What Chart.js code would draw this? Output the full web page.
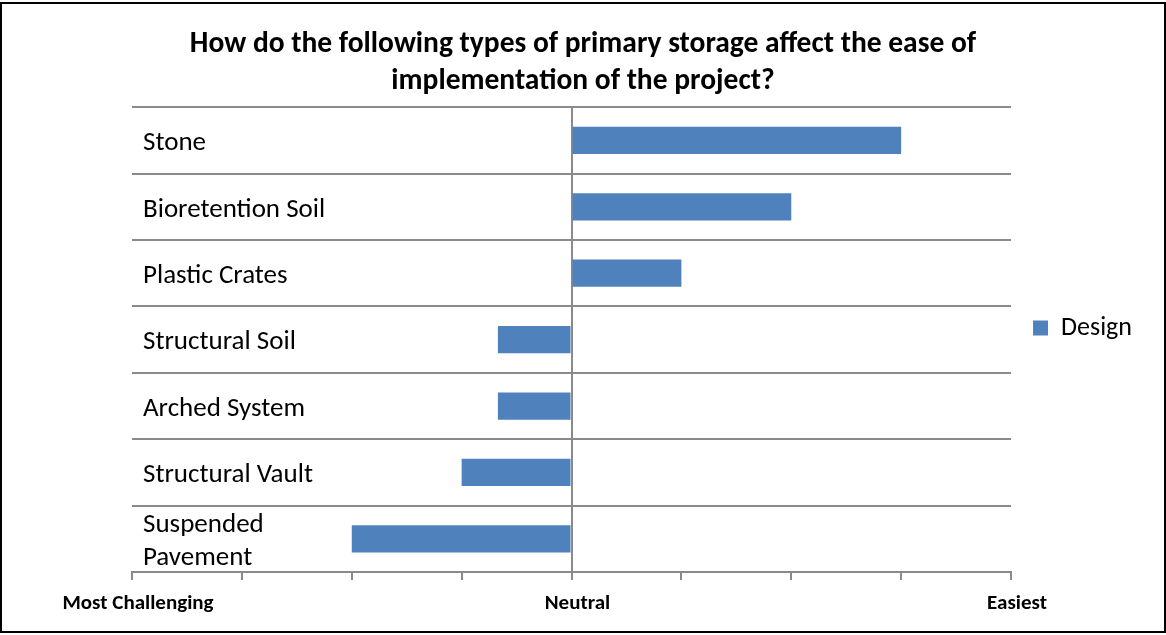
<!DOCTYPE html>
<html>
<head>
<meta charset="utf-8">
<script src="https://cdn.jsdelivr.net/npm/chart.js@4"></script>
<style>
  html, body { margin: 0; padding: 0; background: #fff; }
  #wrap { position: relative; width: 1166px; height: 635px; }
  #frame {
    position: absolute; left: 0; top: 2px; width: 1166px; height: 631px;
    box-sizing: border-box; border: 2px solid #000; pointer-events: none;
  }
</style>
</head>
<body>
<div id="wrap">
  <canvas id="chart" width="1166" height="635"></canvas>
  <div id="frame"></div>
</div>
<script>
const categories = [
  'Stone', 'Bioretention Soil', 'Plastic Crates', 'Structural Soil',
  'Arched System', 'Structural Vault', ['Suspended', 'Pavement']
];
const design = [3, 2, 1, -0.67, -0.67, -1, -2];

// x axis: only three named ticks
const tickValues = [-4, 0, 4];
const tickNames = ['Most Challenging', 'Neutral', 'Easiest'];

const FONT = "Carlito, Lato, 'Open Sans', sans-serif";
const GRID = '#8a8a8a';

const ctx = document.getElementById('chart').getContext('2d');
const chart = new Chart(ctx, {
  type: 'bar',
  data: {
    labels: categories,
    datasets: [{
      label: 'Design',
      data: design,
      backgroundColor: '#4F81BD',
      borderWidth: 0,
      barPercentage: 0.41,
      categoryPercentage: 1
    }]
  },
  options: {
    indexAxis: 'y',
    responsive: false,
    animation: false,
    // equal side padding keeps the title centred on the canvas
    layout: { padding: { left: 24, right: 24, top: 21, bottom: 0 } },
    plugins: {
      title: {
        display: true,
        text: ['How do the following types of primary storage affect the ease of',
               'implementation of the project?'],
        color: '#000',
        font: { family: FONT, size: 29.5, weight: 'bold', lineHeight: 1.25 },
        padding: { top: 5, bottom: 7.5 }
      },
      legend: {
        position: 'right',
        labels: {
          color: '#000',
          font: { family: FONT, size: 26 },
          boxWidth: 15,
          boxHeight: 15,
          padding: 22
        }
      },
      tooltip: { enabled: false }
    },
    scales: {
      x: {
        min: -4,
        max: 4,
        grid: {
          color: c => (c.tick && c.tick.value === 0 ? GRID : 'rgba(0,0,0,0)'),
          lineWidth: 2,
          tickColor: GRID,
          tickLength: 8
        },
        border: { color: GRID, width: 2 },
        ticks: {
          stepSize: 1,
          autoSkip: false,
          maxRotation: 0,
          padding: 11,
          labelOffset: 6,
          color: '#000',
          font: { family: FONT, size: 21, weight: 'bold' },
          callback: v => {
            const i = tickValues.indexOf(v);
            return i >= 0 ? tickNames[i] : '';
          }
        },
        afterFit: s => { s.height = 63; }
      },
      y: {
        grid: { color: GRID, lineWidth: 2, drawTicks: false },
        border: { display: false },
        ticks: {
          mirror: true,
          autoSkip: false,
          padding: 11,
          labelOffset: 3,
          color: '#000',
          font: { family: FONT, size: 27, lineHeight: 1.22 }
        },
        afterFit: s => { s.width = 108; }
      }
    }
  }
});
</script>
</body>
</html>
